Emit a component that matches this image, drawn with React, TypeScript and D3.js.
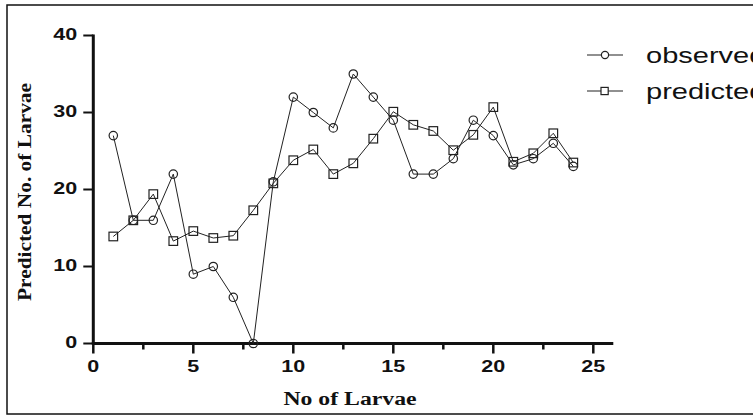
import React from "react";
import * as d3 from "d3";

// larvae counts
const larvaeNo = [1, 2, 3, 4, 5, 6, 7, 8, 9, 10, 11, 12, 13, 14, 15, 16, 17, 18, 19, 20, 21, 22, 23, 24];
const observed = [27, 16, 16, 22, 9, 10, 6, 0, 21, 32, 30, 28, 35, 32, 29, 22, 22, 24, 29, 27, 23.2, 24, 26, 23];
const predicted = [13.9, 16, 19.4, 13.3, 14.6, 13.7, 14, 17.3, 20.8, 23.8, 25.2, 22, 23.4, 26.6, 30.1, 28.4, 27.6, 25.1, 27.1, 30.7, 23.6, 24.7, 27.3, 23.5];
const xTicks = [0, 5, 10, 15, 20, 25];
const xMinor = [2.5, 7.5, 12.5, 17.5, 22.5];
const yTicks = [0, 10, 20, 30, 40];
const seriesNames = ["observed", "predicted"];

const W = 753;
const H = 417;
const SX = 1.32; // the source picture is stretched sideways

const sans = "'Liberation Sans', Arial, sans-serif";
const serif = "'Liberation Serif', 'Times New Roman', serif";

function App() {
  const x = d3.scaleLinear().domain([0, 25]).range([93.3, 593.3]);
  const y = d3.scaleLinear().domain([0, 40]).range([343.5, 35.5]);

  const line = d3
    .line<number>()
    .x((_, i) => x(larvaeNo[i]))
    .y((d) => y(d));

  const ink = "#222";

  return (
    <svg width={W} height={H} style={{ position: "absolute", left: 0, top: 0, background: "#fff" }}>
      <rect x={7} y={5} width={W + 20} height={409} fill="none" stroke="#111" strokeWidth={1.5} />

      {/* y axis */}
      <line x1={x(0)} x2={x(0)} y1={y(40) - 1} y2={y(0)} stroke="#111" strokeWidth={3} />
      {yTicks.map((t) => (
        <g key={"y" + t}>
          <line x1={x(0) - 10} x2={x(0)} y1={y(t)} y2={y(t)} stroke="#111" strokeWidth={2} />
          <text
            transform={`translate(${x(0) - 16},${y(t) + 4}) scale(${SX},1)`}
            textAnchor="end"
            fontFamily={sans}
            fontWeight="bold"
            fontSize={16.3}
            fill="#111"
          >
            {t}
          </text>
        </g>
      ))}

      {/* x axis */}
      <line x1={x(0) - 1.5} x2={x(26)} y1={y(0)} y2={y(0)} stroke="#111" strokeWidth={3} />
      {xTicks.map((t) => (
        <g key={"x" + t}>
          <line x1={x(t)} x2={x(t)} y1={y(0)} y2={y(0) + 10} stroke="#111" strokeWidth={2.5} />
          <text
            transform={`translate(${x(t)},${y(0) + 28}) scale(${SX},1)`}
            textAnchor="middle"
            fontFamily={sans}
            fontWeight="bold"
            fontSize={16.3}
            fill="#111"
          >
            {t}
          </text>
        </g>
      ))}
      {xMinor.map((t) => (
        <line key={"m" + t} x1={x(t)} x2={x(t)} y1={y(0)} y2={y(0) + 6} stroke="#111" strokeWidth={2.5} />
      ))}

      {/* axis titles */}
      <text
        transform={`translate(350,405) scale(${SX},1)`}
        textAnchor="middle"
        fontFamily={serif}
        fontWeight="bold"
        fontSize={18}
        fill="#111"
      >
        No of Larvae
      </text>
      <text
        transform="translate(31,192) rotate(-90)"
        textAnchor="middle"
        fontFamily={serif}
        fontWeight="bold"
        fontSize={18}
        textLength={218}
        lengthAdjust="spacingAndGlyphs"
        fill="#111"
      >
        Predicted No. of Larvae
      </text>

      {/* series */}
      <path d={line(observed) || ""} fill="none" stroke={ink} strokeWidth={1} />
      <path d={line(predicted) || ""} fill="none" stroke={ink} strokeWidth={1} />
      {predicted.map((v, i) => (
        <rect
          key={"p" + i}
          x={x(larvaeNo[i]) - 4.3}
          y={y(v) - 4.3}
          width={8.6}
          height={8.6}
          fill="none"
          stroke={ink}
          strokeWidth={1.2}
        />
      ))}
      {observed.map((v, i) => (
        <circle key={"o" + i} cx={x(larvaeNo[i])} cy={y(v)} r={4.2} fill="none" stroke={ink} strokeWidth={1.2} />
      ))}

      {/* legend, clipped at the right edge as in the source */}
      {seriesNames.map((name, i) => {
        const ly = 55 + i * 36;
        return (
          <g key={name}>
            <line x1={587} x2={623} y1={ly} y2={ly} stroke={ink} strokeWidth={1.2} />
            {i === 0 ? (
              <circle cx={605} cy={ly} r={3.6} fill="#fff" stroke={ink} strokeWidth={1.2} />
            ) : (
              <rect x={601} y={ly - 3.6} width={7.2} height={7.2} fill="#fff" stroke={ink} strokeWidth={1.2} />
            )}
            <text
              transform={`translate(646,${ly + 8}) scale(${SX},1)`}
              fontFamily={sans}
              fontSize={22}
              fill="#111"
            >
              {name}
            </text>
          </g>
        );
      })}
    </svg>
  );
}

export default App;
